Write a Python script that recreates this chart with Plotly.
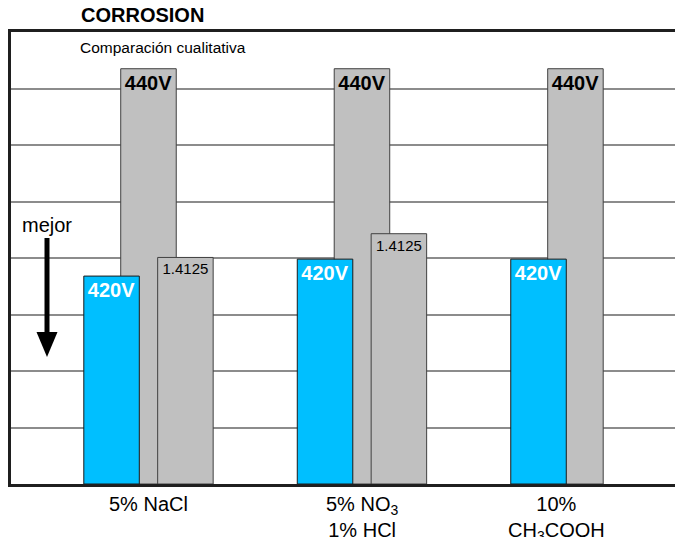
import plotly.graph_objects as go

# ---- data ----
categories = ["5% NaCl", "5% NO3 1% HCl", "10% CH3COOH"]
tick_labels = ["5% NaCl", "5% NO<sub>3</sub><br>1% HCl", "10%<br>CH<sub>3</sub>COOH"]
series_names = ["440V", "420V", "1.4125"]
values_440 = [7.35, 7.35, 7.35]
values_420 = [3.68, 3.98, 3.98]
values_14125 = [4.01, 4.43, None]

title_text = "CORROSION"
subtitle_text = "Comparación cualitativa"
arrow_text = "mejor"

FONT = "Arial, Liberation Sans, sans-serif"
BLUE = "#00BFFF"
GRAY = "#C0C0C0"

bar_w = 0.26
step = 0.173

fig = go.Figure()

# 440V (drawn first, behind the others)
fig.add_trace(go.Bar(
    x=categories, y=values_440, width=bar_w, offset=-bar_w / 2,
    marker=dict(color=GRAY, line=dict(color="#404040", width=1)),
    text=[series_names[0]] * len(categories), textposition="inside",
    insidetextanchor="end", textangle=0, constraintext="none",
    textfont=dict(family=FONT, size=20, color="#000000", weight="bold"),
    hoverinfo="skip", name=series_names[0]))

# 420V blue
fig.add_trace(go.Bar(
    x=categories, y=values_420, width=bar_w, offset=-step - bar_w / 2,
    marker=dict(color=BLUE, line=dict(color="#1a1a1a", width=1)),
    text=[series_names[1]] * len(categories), textposition="inside",
    insidetextanchor="end", textangle=0, constraintext="none",
    textfont=dict(family=FONT, size=20, color="#FFFFFF", weight="bold"),
    hoverinfo="skip", name=series_names[1]))

# 1.4125
fig.add_trace(go.Bar(
    x=categories, y=values_14125, width=bar_w, offset=step - bar_w / 2,
    marker=dict(color=GRAY, line=dict(color="#404040", width=1)),
    text=[series_names[2] if v is not None else "" for v in values_14125],
    textposition="inside", insidetextanchor="end", textangle=0,
    constraintext="none",
    textfont=dict(family=FONT, size=15, color="#000000"),
    hoverinfo="skip", name=series_names[2]))

annotations = []
# category labels
for i, lab in enumerate(tick_labels):
    has_third = values_14125[i] is not None
    xpos = i if has_third else i - step / 2
    annotations.append(dict(
        x=xpos, xref="x", y=0, yref="paper", yanchor="top", yshift=-7,
        text=lab, showarrow=False, align="center",
        font=dict(family=FONT, size=20, color="#000000")))

annotations.append(dict(
    x=(79 - 11) / 665, xref="paper", xanchor="left", y=1, yref="paper",
    yanchor="middle", yshift=17, text="<b>" + title_text + "</b>",
    showarrow=False, font=dict(family=FONT, size=20, color="#000000")))
annotations.append(dict(
    x=(78 - 11) / 665, xref="paper", xanchor="left", y=1, yref="paper",
    yanchor="middle", yshift=-15, text=subtitle_text,
    showarrow=False, font=dict(family=FONT, size=15.5, color="#000000")))
annotations.append(dict(
    x=(20 - 11) / 665, xref="paper", xanchor="left", y=4.58, yref="y",
    yanchor="middle", text=arrow_text,
    showarrow=False, font=dict(family=FONT, size=20, color="#000000")))

ax = (47 - 11) / 665
hw = 10.5 / 665
shapes = [
    dict(type="line", xref="paper", yref="y", x0=ax, x1=ax, y0=4.354, y1=2.66,
         line=dict(color="#000000", width=5)),
    dict(type="path", xref="paper", yref="y",
         path=f"M {ax - hw},2.69 L {ax + hw},2.69 L {ax},2.248 Z",
         fillcolor="#000000", line=dict(color="#000000", width=0)),
]

# page body has an 8px default margin -> compensate
fig.update_layout(
    width=675, height=529,
    margin=dict(l=3, r=7, t=24, b=53),
    paper_bgcolor="white", plot_bgcolor="white",
    barmode="overlay", showlegend=False,
    annotations=annotations, shapes=shapes,
    font=dict(family=FONT),
)
fig.update_xaxes(type="category", range=[-0.644, 2.471], showticklabels=False,
                 ticks="", showgrid=False, zeroline=False,
                 showline=True, linewidth=3, linecolor="#1f1f1f", mirror=True)
fig.update_yaxes(range=[0, 8], dtick=1, showticklabels=False, ticks="",
                 showgrid=True, gridcolor="#8c8c8c", gridwidth=1.5,
                 zeroline=False,
                 showline=True, linewidth=3, linecolor="#1f1f1f", mirror=True)

fig.write_html("out.html")
